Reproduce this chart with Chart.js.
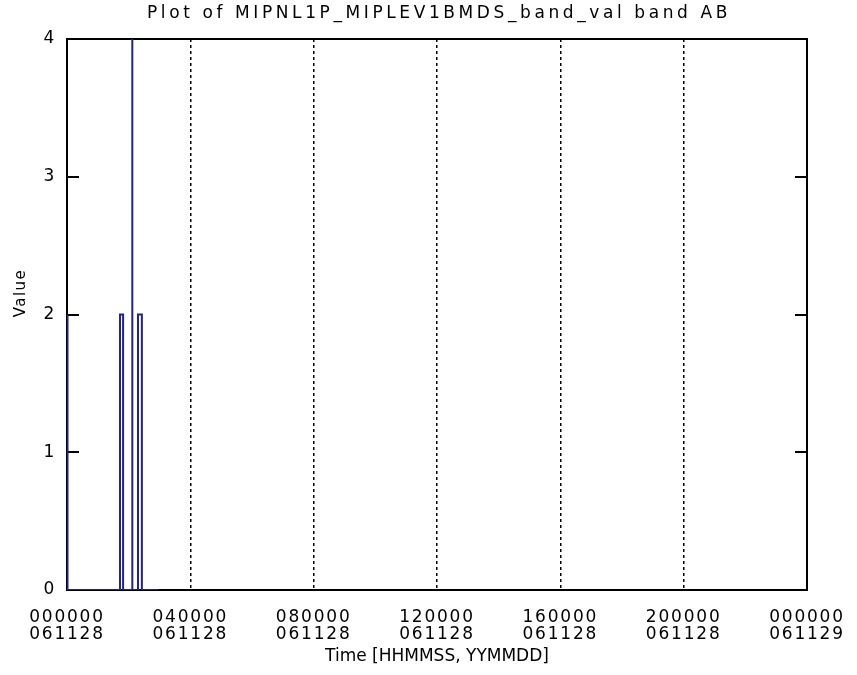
<!DOCTYPE html>
<html>
<head>
<meta charset="utf-8">
<script src="https://cdn.jsdelivr.net/npm/chart.js@4"></script>
<style>
  html, body { margin: 0; padding: 0; background: #fff; }
  #wrap { width: 857px; height: 675px; }
</style>
</head>
<body>
<div id="wrap"><canvas id="bandChart" width="857" height="675"></canvas></div>
<script>
// time in seconds since 000000 061128, and the band value at that time
const timeSec = [0, 60, 60, 6190, 6190, 6550, 6550, 7600, 7600, 7640, 7640, 8290, 8290, 8740, 8740, 10650];
const values  = [2, 2, 0, 0, 2, 2, 0, 0, 4, 4, 0, 0, 2, 2, 0, 0];

const xTickTimes = ['000000', '040000', '080000', '120000', '160000', '200000', '000000'];
const xTickDates = ['061128', '061128', '061128', '061128', '061128', '061128', '061129'];
const yTicks = [0, 1, 2, 3, 4];

const titleText = 'Plot of MIPNL1P_MIPLEV1BMDS_band_val band AB';
const xTitleText = 'Time [HHMMSS, YYMMDD]';
const yTitleText = 'Value';

const FONT = 'DejaVu Sans';

// the old IDL font is wide, so spread the tick letters a bit
const spacingPlugin = {
    id: 'spacing',
    beforeLayout(chart) { chart.ctx.letterSpacing = '1.8px'; },
    beforeDraw(chart) { chart.ctx.letterSpacing = '1.8px'; }
};

// frame + inward y ticks under the data line, titles on top
const framePlugin = {
    id: 'frame',
    beforeDatasetsDraw(chart) {
        const { ctx, chartArea: a, scales } = chart;
        ctx.save();
        ctx.strokeStyle = '#000';
        ctx.lineWidth = 2;
        ctx.strokeRect(a.left, a.top, a.right - a.left, a.bottom - a.top);
        yTicks.forEach(v => {
            if (v === 0 || v === 4) return;
            const y = Math.round(scales.y.getPixelForValue(v));
            ctx.beginPath();
            ctx.moveTo(a.left, y);
            ctx.lineTo(a.left + 12, y);
            ctx.moveTo(a.right, y);
            ctx.lineTo(a.right - 12, y);
            ctx.stroke();
        });
        ctx.restore();
    },
    afterDraw(chart) {
        const { ctx, chartArea: a } = chart;
        const cx = (a.left + a.right) / 2;
        ctx.save();
        ctx.fillStyle = '#000';
        ctx.textAlign = 'center';
        ctx.textBaseline = 'middle';
        ctx.font = '17px "' + FONT + '"';
        ctx.letterSpacing = '3.6px';
        ctx.fillText(titleText, cx + 2, 14);

        ctx.letterSpacing = '0px';
        ctx.fillText(xTitleText, cx, 657);

        ctx.font = '15px "' + FONT + '"';
        ctx.letterSpacing = '1.5px';
        ctx.translate(21, 293);
        ctx.rotate(-Math.PI / 2);
        ctx.fillText(yTitleText, 0, 0);
        ctx.restore();
    }
};

new Chart(document.getElementById('bandChart').getContext('2d'), {
    type: 'line',
    data: {
        datasets: [{
            data: timeSec.map((t, i) => ({ x: t, y: values[i] })),
            borderColor: '#22228e',
            borderWidth: 2,
            pointRadius: 0,
            tension: 0,
            fill: false
        }]
    },
    options: {
        responsive: false,
        animation: false,
        layout: { padding: { left: 0, right: 50, top: 39, bottom: 0 } },
        plugins: {
            legend: { display: false },
            tooltip: { enabled: false },
            title: { display: false }
        },
        scales: {
            x: {
                type: 'linear',
                min: 0,
                max: 86400,
                ticks: {
                    stepSize: 14400,
                    color: '#000',
                    padding: 19,
                    maxRotation: 0,
                    font: { family: FONT, size: 17, lineHeight: 1.0 },
                    callback: (v) => {
                        const i = Math.round(v / 14400);
                        return [xTickTimes[i], xTickDates[i]];
                    }
                },
                grid: {
                    color: '#000',
                    lineWidth: 1.5,
                    drawTicks: false
                },
                border: { display: false, dash: [3, 3] },
                title: { display: false },
                afterFit: (s) => {
                    s.height = 85;
                    s.paddingLeft = 0;
                    s.paddingRight = 0;
                }
            },
            y: {
                min: 0,
                max: 4,
                ticks: {
                    stepSize: 1,
                    color: '#000',
                    padding: 3,
                    font: { family: FONT, size: 17 }
                },
                grid: { display: false },
                border: { display: false },
                afterFit: (s) => {
                    s.width = 67;
                    s.paddingTop = 0;
                    s.paddingBottom = 0;
                }
            }
        }
    },
    plugins: [spacingPlugin, framePlugin]
});
</script>
</body>
</html>
